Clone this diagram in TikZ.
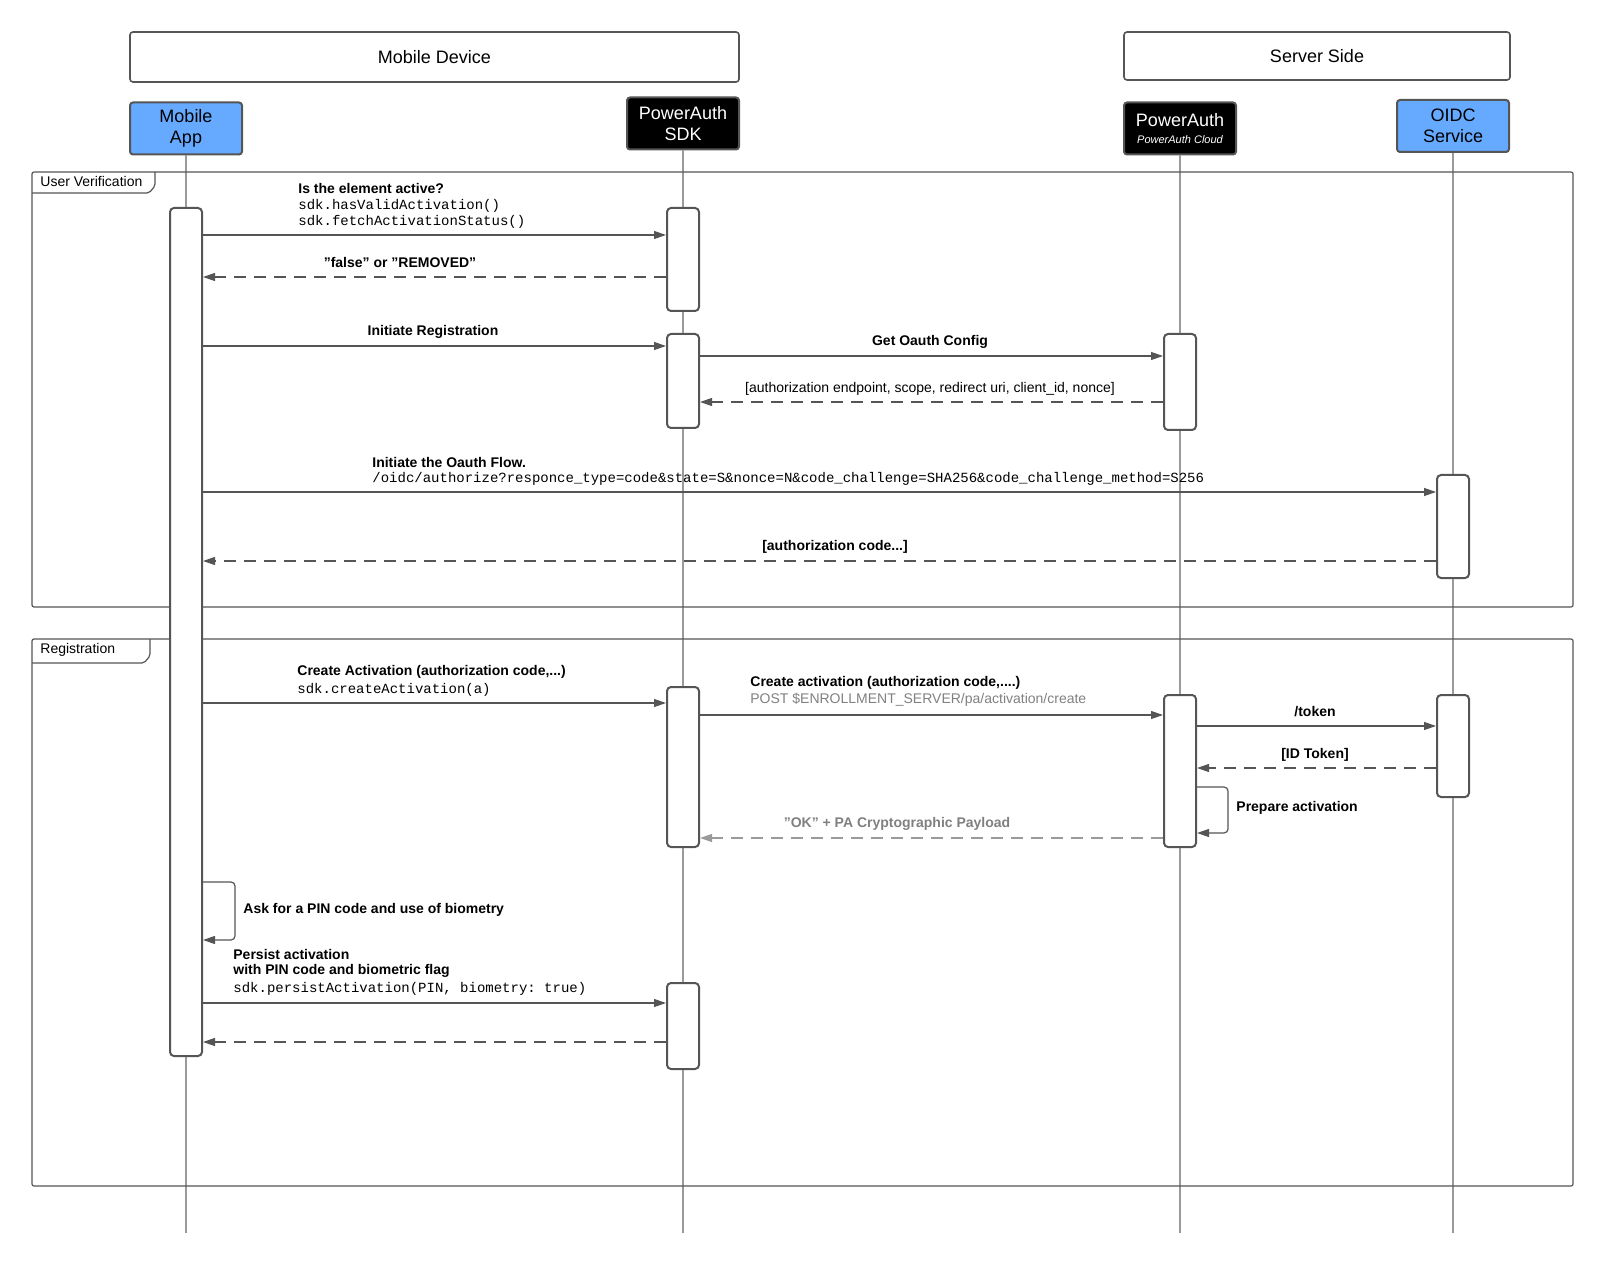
\documentclass[tikz,border=0pt]{standalone}
\usepackage{fontspec}
\setmainfont{Liberation Sans}
\setmonofont{Liberation Mono}
\usetikzlibrary{arrows.meta,positioning}
\definecolor{actblue}{HTML}{66AAFF}
\definecolor{linegray}{HTML}{555555}
\definecolor{lifegray}{HTML}{9A9A9A}
\newcommand{\actbar}[4]{\node[bar,minimum height={(#4-#3)*0.5pt}] (#1) at (#2,{(#3+#4)/2}) {};}

\begin{document}
\begin{tikzpicture}[x=0.5pt,y=-0.5pt,
  head/.style={draw=linegray,line width=1pt,rounded corners=1.5pt,minimum width=56pt,minimum height=26pt,align=center,font=\fontsize{9}{10.5}\selectfont,inner sep=1pt},
  actor/.style={head,fill=actblue},
  blk/.style={head,fill=black,text=white},
  group/.style={draw=linegray,line width=0.8pt,rounded corners=1.5pt,font=\fontsize{9}{10}\selectfont},
  bar/.style={draw=linegray,fill=white,line width=1pt,rounded corners=2pt,minimum width=16pt,inner sep=0pt},
  life/.style={draw=lifegray,line width=0.6pt},
  frame/.style={draw=linegray,line width=0.6pt,rounded corners=1pt},
  msg/.style={draw=linegray,line width=0.6pt,-{Triangle[length=6pt,width=4pt]}},
  ret/.style={msg,dash pattern=on 6pt off 4pt},
  lbl/.style={font=\fontsize{7}{8.5}\selectfont\bfseries,inner sep=1pt},
  code/.style={font=\fontsize{7}{8.5}\selectfont\ttfamily,inner sep=1pt},
  note/.style={font=\fontsize{7}{8.5}\selectfont,inner sep=1pt}]
\useasboundingbox (0,0) rectangle (1600,1261);
% groups
\node[group,minimum width={609*0.5pt},minimum height=25pt] (device) at (434.5,57) {Mobile Device};
\node[group,minimum width={386*0.5pt},minimum height=24pt] (server) at (1317,56) {Server Side};
% participants
\node[actor] (app) at (186,128.5) {Mobile\\App};
\node[blk] (sdk) at (683,123.5) {PowerAuth\\SDK};
\node[blk] (cloud) at (1180,128.5) {PowerAuth\\[-2pt]{\fontsize{5.5}{6}\selectfont\itshape PowerAuth Cloud}};
\node[actor] (oidc) at (1453,126) {OIDC\\Service};
% lifelines
\coordinate (append) at (186,1233);
\coordinate (sdkend) at (683,1233);
\coordinate (cloudend) at (1180,1233);
\coordinate (oidcend) at (1453,1233);
\draw[life] (app) -- (append);
\draw[life] (sdk) -- (sdkend);
\draw[life] (cloud) -- (cloudend);
\draw[life] (oidc) -- (oidcend);
% frames
\draw[frame] (32,172) rectangle (1573,607);
\draw[frame] (32,193) -- (149,193) -- (155,186) -- (155,172);
\node[note,anchor=west,font=\fontsize{7}{8}\selectfont] (uv) at (38,182) {User Verification};
\draw[frame] (32,639) rectangle (1573,1186);
\draw[frame] (32,663) -- (144,663) -- (150,656) -- (150,639);
\node[note,anchor=west,font=\fontsize{7}{8}\selectfont] (reg) at (38,650) {Registration};
% activations
\actbar{appbar}{186}{208}{1056}
\actbar{sdkA}{683}{208}{311}
\actbar{sdkB}{683}{334}{428}
\actbar{cloudA}{1180}{334}{430}
\actbar{oidcA}{1453}{475}{578}
\actbar{sdkC}{683}{687}{847}
\actbar{cloudB}{1180}{695}{847}
\actbar{oidcB}{1453}{695}{797}
\actbar{sdkD}{683}{983}{1069}
% user verification
\draw[msg] (appbar.east |- 0,235) -- (sdkA.west |- 0,235);
\node[lbl,anchor=west] (q1) at (296,189) {Is the element active?};
\node[code,anchor=west] (q2) at (296,206) {sdk.hasValidActivation()};
\node[code,anchor=west] (q3) at (296,222) {sdk.fetchActivationStatus()};
\draw[ret] (sdkA.west |- 0,277) -- (appbar.east |- 0,277);
\node[lbl] (r1) at (400,263) {"false" or "REMOVED"};
\draw[msg] (appbar.east |- 0,346) -- (sdkB.west |- 0,346);
\node[lbl] (ir) at (433,332) {Initiate Registration};
\draw[msg] (sdkB.east |- 0,356) -- (cloudA.west |- 0,356);
\node[lbl] (goc) at (930,342) {Get Oauth Config};
\draw[ret] (cloudA.west |- 0,402) -- (sdkB.east |- 0,402);
\node[note] (cfg) at (930,389) {[authorization endpoint, scope, redirect uri, client\_id, nonce]};
\draw[msg] (appbar.east |- 0,492) -- (oidcA.west |- 0,492);
\node[lbl,anchor=west] (of1) at (370,462) {Initiate the Oauth Flow.};
\node[code,anchor=west] (of2) at (370,479) {/oidc/authorize?responce\_type=code\&state=S\&nonce=N\&code\_challenge=SHA256\&code\_challenge\_method=S256};
\draw[ret] (oidcA.west |- 0,561) -- (appbar.east |- 0,561);
\node[lbl] (ac) at (835,547) {[authorization code...]};
% registration
\draw[msg] (appbar.east |- 0,703) -- (sdkC.west |- 0,703);
\node[lbl,anchor=west] (ca1) at (295,672) {Create Activation (authorization code,...)};
\node[code,anchor=west] (ca2) at (295,690) {sdk.createActivation(a)};
\draw[msg] (sdkC.east |- 0,715) -- (cloudB.west |- 0,715);
\node[lbl,anchor=west] (cb1) at (748,683) {Create activation (authorization code,....)};
\node[note,anchor=west,text=gray] (cb2) at (748,700) {POST \$ENROLLMENT\_SERVER/pa/activation/create};
\draw[msg] (cloudB.east |- 0,726) -- (oidcB.west |- 0,726);
\node[lbl] (tok) at (1315,712) {/token};
\draw[ret] (oidcB.west |- 0,768) -- (cloudB.east |- 0,768);
\node[lbl] (idt) at (1315,755) {[ID Token]};
\draw[msg,rounded corners=2pt] (cloudB.east |- 0,787) -- (1228,787) -- (1228,833) -- (cloudB.east |- 0,833);
\node[lbl,anchor=west] (prep) at (1234,808) {Prepare activation};
\draw[ret,draw=lifegray] (cloudB.west |- 0,838) -- (sdkC.east |- 0,838);
\node[lbl,text=gray] (ok) at (897,824) {"OK" + PA Cryptographic Payload};
\draw[msg,rounded corners=2pt] (appbar.east |- 0,882) -- (235,882) -- (235,940) -- (appbar.east |- 0,940);
\node[lbl,anchor=west] (pin) at (241,910) {Ask for a PIN code and use of biometry};
\draw[msg] (appbar.east |- 0,1003) -- (sdkD.west |- 0,1003);
\node[lbl,anchor=west] (pa1) at (231,954) {Persist activation};
\node[lbl,anchor=west] (pa2) at (231,971) {with PIN code and biometric flag};
\node[code,anchor=west] (pa3) at (231,989) {sdk.persistActivation(PIN, biometry: true)};
\draw[ret] (sdkD.west |- 0,1042) -- (appbar.east |- 0,1042);
\end{tikzpicture}
\end{document}
